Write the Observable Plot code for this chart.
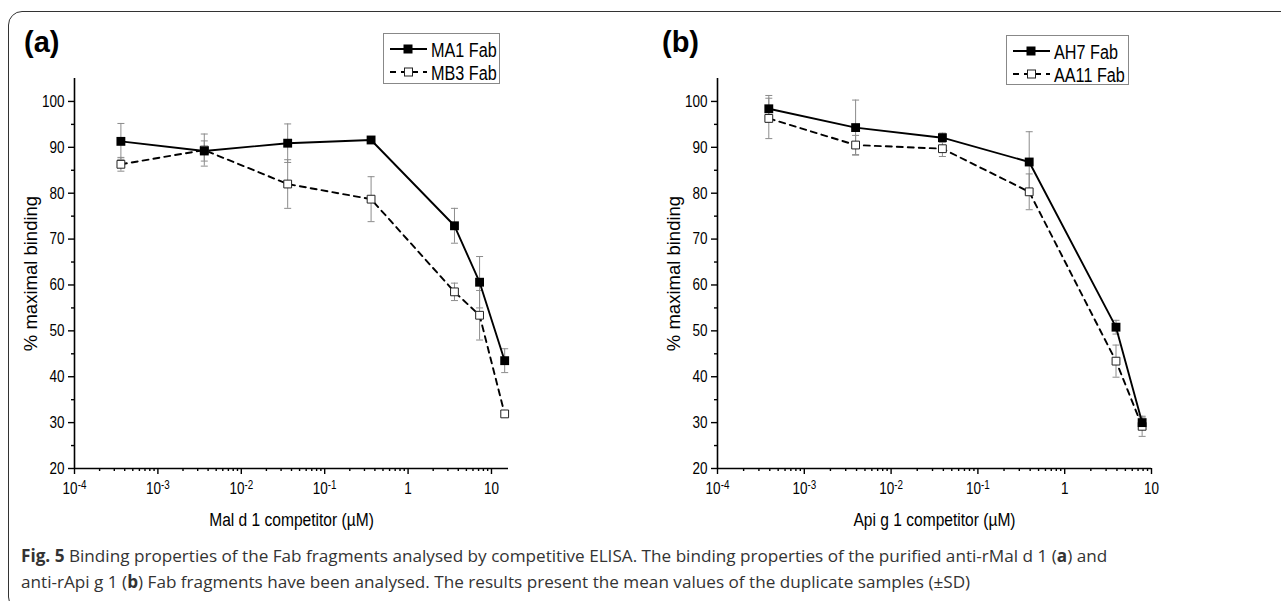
<!DOCTYPE html>
<html><head><meta charset="utf-8">
<script src="https://cdn.jsdelivr.net/npm/d3@7"></script>
<script src="https://cdn.jsdelivr.net/npm/@observablehq/plot@0.6"></script>
<style>
body{margin:0;background:#fff;}
#wrap{position:relative;width:1281px;height:601px;overflow:hidden;font-family:"Liberation Sans",Arial,sans-serif;background:#fff;}
#frame{position:absolute;left:8px;top:11px;width:1300px;height:600px;border:1.5px solid #333;border-radius:14px;box-sizing:border-box;}
.panel{position:absolute;top:0;}
.tag{position:absolute;font-weight:bold;font-size:29px;line-height:29px;color:#000;}
.legend{position:absolute;border:1px solid #888;background:#fff;box-sizing:border-box;}
.legend svg{display:block;position:absolute;left:0;top:0;overflow:visible;}
.caption{position:absolute;left:21px;top:543px;font-family:"Open Sans",sans-serif;font-size:17.15px;line-height:26px;color:#333;white-space:nowrap;}
</style></head>
<body>
<div id="wrap">
  <div id="frame"></div>
  <div class="panel" id="pa" style="left:0px"></div>
  <div class="panel" id="pb" style="left:640px"></div>
  <div class="tag" style="left:24px;top:28px">(a)</div>
  <div class="tag" style="left:662px;top:28px">(b)</div>
  <div class="legend" id="lega" style="left:383px;top:33px;width:117px;height:51px"></div>
  <div class="legend" id="legb" style="left:1006px;top:35px;width:123px;height:50px"></div>
  <div class="caption"><b>Fig. 5</b> Binding properties of the Fab fragments analysed by competitive ELISA. The binding properties of the purified anti-rMal d 1 (<b>a</b>) and<br>anti-rApi g 1 (<b>b</b>) Fab fragments have been analysed. The results present the mean values of the duplicate samples (±SD)</div>
</div>
<script>
// Panel (a): Mal d 1 competitor concentrations (µM)
const xA = [0.00036, 0.0036, 0.036, 0.36, 3.6, 7.2, 14.4];
const ma1 = [91.3, 89.2, 90.9, 91.6, 72.9, 60.6, 43.5];
const ma1Sd = [3.9, 2.2, 4.2, 0.4, 3.8, 5.6, 2.6];
const mb3 = [86.3, 89.4, 82.0, 78.7, 58.5, 53.4, 31.9];
const mb3Sd = [1.5, 3.5, 5.3, 4.9, 1.9, 5.4, 0.5];

// Panel (b): Api g 1 competitor concentrations (µM)
const xB = [0.00039, 0.0039, 0.039, 0.39, 3.9, 7.8];
const ah7 = [98.4, 94.3, 92.1, 86.8, 50.8, 30.0];
const ah7Sd = [2.9, 6.0, 1.0, 6.6, 1.5, 1.2];
const aa11 = [96.3, 90.5, 89.7, 80.3, 43.4, 29.2];
const aa11Sd = [4.4, 2.1, 1.7, 3.9, 3.5, 2.2];

const seriesNamesA = ["MA1 Fab", "MB3 Fab"];
const seriesNamesB = ["AH7 Fab", "AA11 Fab"];
const xTitleA = "Mal d 1 competitor (µM)";
const xTitleB = "Api g 1 competitor (µM)";
const yTitle = "% maximal binding";

const xMajor = [1e-4, 1e-3, 1e-2, 1e-1, 1, 10];
const xMajorLabels = ["10^-4", "10^-3", "10^-2", "10^-1", "1", "10"];
const yMajor = [20, 30, 40, 50, 60, 70, 80, 90, 100];
const yMinor = [25, 35, 45, 55, 65, 75, 85, 95];

const FONT = "'Liberation Sans', Arial, sans-serif";

const capSymbol = {draw(ctx, size) { const w = Math.sqrt(size / Math.PI); ctx.moveTo(-w, 0); ctx.lineTo(w, 0); }};

function makePanel({xs, s1, s1sd, s2, s2sd, xmax, width, ml, mr, xTitle}) {
  const rows1 = xs.map((x, i) => ({x, y: s1[i], sd: s1sd[i]}));
  const rows2 = xs.map((x, i) => ({x, y: s2[i], sd: s2sd[i]}));
  const errs = rows2.concat(rows1);
  const minor = [];
  for (const d of [1e-4, 1e-3, 1e-2, 1e-1, 1, 10]) for (let k = 2; k <= 9; k++) if (d * k <= xmax) minor.push(d * k);
  const svg = Plot.plot({
    width, height: 540,
    marginLeft: ml, marginRight: mr, marginTop: 78, marginBottom: 72,
    style: {fontFamily: FONT, fontSize: "16px", color: "black", background: "transparent"},
    x: {type: "log", domain: [1e-4, xmax], label: null, axis: null},
    y: {domain: [20, 105], label: null, axis: null},
    marks: [
      Plot.ruleX(errs, {x: "x", y1: d => d.y - d.sd, y2: d => d.y + d.sd, stroke: "#8c8c8c", strokeWidth: 1}),
      Plot.dot(errs, {x: "x", y: d => d.y - d.sd, symbol: capSymbol, r: 3.5, fill: "none", stroke: "#8c8c8c", strokeWidth: 1}),
      Plot.dot(errs, {x: "x", y: d => d.y + d.sd, symbol: capSymbol, r: 3.5, fill: "none", stroke: "#8c8c8c", strokeWidth: 1}),
      Plot.line(rows2, {x: "x", y: "y", stroke: "black", strokeWidth: 1.9, strokeDasharray: "6,5"}),
      Plot.line(rows1, {x: "x", y: "y", stroke: "black", strokeWidth: 1.9}),
      Plot.dot(rows2, {x: "x", y: "y", symbol: "square", r: 4.4, fill: "white", stroke: "#222", strokeWidth: 1}),
      Plot.dot(rows1, {x: "x", y: "y", symbol: "square", r: 5, fill: "black"}),
      Plot.ruleX([1e-4], {stroke: "black", strokeWidth: 1.6}),
      Plot.ruleY([20], {stroke: "black", strokeWidth: 1.6}),
      Plot.axisY({ticks: yMajor, tickSize: 6, tickPadding: 4, strokeWidth: 1.4, fontSize: 16.5, label: null}),
      Plot.axisY({ticks: yMinor, tickSize: 3, strokeWidth: 1.4, text: null, label: null}),
      Plot.axisX({ticks: xMajor, tickSize: 6, tickPadding: 8, strokeWidth: 1.4, fontSize: 16.5, label: null,
        tickFormat: d => xMajorLabels[Math.round(Math.log10(d)) + 4]}),
      Plot.axisX({ticks: minor, tickSize: 3, strokeWidth: 1.4, text: null, label: null}),
      Plot.text([xTitle], {text: d => d, frameAnchor: "bottom", dy: 51, lineAnchor: "middle", fontSize: 19}),
      Plot.text([yTitle], {text: d => d, frameAnchor: "left", textAnchor: "middle", rotate: -90, dx: -43, lineAnchor: "middle", fontSize: 18.5})
    ]
  });
  d3.select(svg).selectAll('g[aria-label="x-axis tick label"] text').each(function() {
    const t = this.textContent;
    if (t.includes("^")) {
      const [b, e] = t.split("^");
      this.textContent = b;
      d3.select(this).append("tspan").attr("dy", "-0.45em").attr("font-size", "12px").text(e);
    }
  });
  return svg;
}

function makeLegend(el, names) {
  const w = el.clientWidth, h = el.clientHeight;
  const svg = d3.select(el).append("svg").attr("width", w + 10).attr("height", h + 10)
    .style("font-family", FONT);
  const rowsY = [15, 38];
  names.forEach((n, i) => {
    const g = svg.append("g").attr("transform", `translate(0,${rowsY[i]})`);
    g.append("line").attr("x1", 6).attr("x2", 43).attr("stroke", "black").attr("stroke-width", 1.9)
      .attr("stroke-dasharray", i ? "6,5" : null);
    if (i === 0) g.append("rect").attr("x", 19.5).attr("y", -4.5).attr("width", 9).attr("height", 9).attr("fill", "black");
    else g.append("rect").attr("x", 20.5).attr("y", -4).attr("width", 8).attr("height", 8).attr("fill", "white").attr("stroke", "#222");
    g.append("text").attr("transform", "translate(47,7.5)").attr("font-size", 20).text(n);
  });
  return svg.node();
}

// The reference artwork is horizontally condensed: squeeze horizontal texts about their anchor.
function condense(root, f) {
  root.querySelectorAll("text").forEach(t => {
    const tr = t.getAttribute("transform");
    if (tr && tr.includes("rotate")) return;
    if (tr) {
      t.setAttribute("transform", `${tr} scale(${f},1)`);
    } else {
      const x = +t.getAttribute("x") || 0, y = +t.getAttribute("y") || 0;
      t.setAttribute("x", 0); t.setAttribute("y", 0);
      t.setAttribute("transform", `translate(${x},${y}) scale(${f},1)`);
    }
  });
}

const svgA = makePanel({xs: xA, s1: ma1, s1sd: ma1Sd, s2: mb3, s2sd: mb3Sd, xmax: 16, width: 640, ml: 74, mr: 132, xTitle: xTitleA});
const svgB = makePanel({xs: xB, s1: ah7, s1sd: ah7Sd, s2: aa11, s2sd: aa11Sd, xmax: 10, width: 641, ml: 77, mr: 130, xTitle: xTitleB});
document.getElementById("pa").appendChild(svgA);
document.getElementById("pb").appendChild(svgB);
condense(svgA, 0.82);
condense(svgB, 0.82);
condense(makeLegend(document.getElementById("lega"), seriesNamesA), 0.81);
condense(makeLegend(document.getElementById("legb"), seriesNamesB), 0.81);
</script>
</body></html>
